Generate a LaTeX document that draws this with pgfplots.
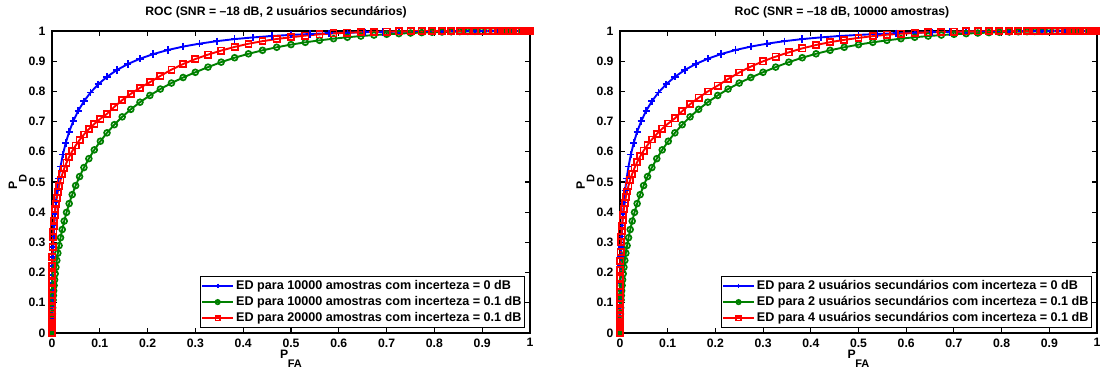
\documentclass[border=0pt]{standalone}
\usepackage{fontspec}
\setmainfont{Liberation Sans}
\usepackage{pgfplots}
\usepackage{pgfplotstable}
\pgfplotsset{compat=1.18}

\definecolor{mblue}{rgb}{0,0,1}
\definecolor{mgreen}{rgb}{0,0.5,0}
\definecolor{mred}{rgb}{1,0,0}

\pgfplotstableread{
x b
0 0
0.00003 0.0384
0.00005 0.0475
0.00007 0.0583
0.00011 0.0708
0.00016 0.0854
0.00023 0.1021
0.00034 0.1211
0.00048 0.1424
0.00069 0.1661
0.00097 0.1923
0.00135 0.2207
0.0019 0.2515
0.0026 0.2844
0.0035 0.3192
0.0047 0.3558
0.0062 0.3936
0.0082 0.4325
0.0107 0.4721
0.0139 0.5120
0.0179 0.5517
0.0228 0.5909
0.0287 0.6292
0.0359 0.6663
0.0446 0.7019
0.0548 0.7356
0.0668 0.7672
0.0808 0.7966
0.0968 0.8237
0.1151 0.8484
0.1357 0.8707
0.1587 0.8906
0.1841 0.9082
0.2119 0.9236
0.2420 0.9369
0.2743 0.9484
0.3085 0.9581
0.3446 0.9663
0.3821 0.9732
0.4207 0.9788
0.4602 0.9834
0.5 0.9871
0.5398 0.9901
0.5793 0.9925
0.6179 0.9943
0.6554 0.9957
0.6915 0.9968
0.7257 0.9977
0.7580 0.9983
0.7881 0.9988
0.8159 0.9991
0.8413 0.9994
0.8643 0.9996
0.8849 0.9997
0.9032 0.9998
0.9192 0.9998
0.9332 0.9999
0.9452 0.9999
0.9554 1
0.9641 1
0.9713 1
0.9772 1
0.9861 1
0.9918 1
0.9953 1
0.9974 1
1 1
}\blueTab

\pgfplotstableread{
x g rl rr
0 0 0 0
0 0.0003 0.0265 0.0237
0 0.0004 0.0331 0.0298
0.000001 0.0007 0.0410 0.0370
0.000002 0.0012 0.0503 0.0456
0.000003 0.0020 0.0612 0.0558
0.000007 0.0032 0.0739 0.0676
0.000013 0.0049 0.0885 0.0813
0.000026 0.0075 0.1052 0.0970
0.000048 0.0113 0.1241 0.1149
0.000088 0.0166 0.1452 0.1349
0.000159 0.0239 0.1686 0.1573
0.00028 0.0336 0.1943 0.1819
0.00048 0.0465 0.2222 0.2088
0.00082 0.0630 0.2523 0.2379
0.00135 0.0838 0.2843 0.2690
0.00219 0.1093 0.3183 0.3022
0.00277 0.1241 0.3360 0.3196
0.00347 0.1402 0.3539 0.3372
0.00433 0.1575 0.3722 0.3552
0.00539 0.1762 0.3907 0.3734
0.00667 0.1963 0.4095 0.3920
0.0082 0.2177 0.4286 0.4109
0.01004 0.2404 0.4478 0.4300
0.01222 0.2644 0.4672 0.4493
0.01484 0.2895 0.4865 0.4686
0.01786 0.3156 0.5060 0.4880
0.02144 0.3427 0.5254 0.5075
0.02559 0.3707 0.5448 0.5270
0.0304 0.3994 0.5640 0.5463
0.03593 0.4286 0.5832 0.5656
0.0423 0.4582 0.6021 0.5847
0.04947 0.4880 0.6208 0.6037
0.0577 0.5179 0.6392 0.6224
0.06681 0.5478 0.6573 0.6408
0.0771 0.5773 0.6750 0.6588
0.08851 0.6064 0.6924 0.6766
0.1012 0.6350 0.7092 0.6938
0.11507 0.6628 0.7257 0.7107
0.1304 0.6898 0.7489 0.7346
0.14686 0.7157 0.7711 0.7575
0.1649 0.7406 0.7920 0.7791
0.18406 0.7642 0.8118 0.7997
0.2048 0.7866 0.8305 0.8191
0.22663 0.8078 0.8513 0.8409
0.2499 0.8276 0.8720 0.8626
0.27425 0.8460 0.8906 0.8822
0.2998 0.8632 0.9071 0.8996
0.32636 0.8804 0.9218 0.9152
0.3539 0.8968 0.9351 0.9294
0.38209 0.9115 0.9473 0.9425
0.4110 0.9245 0.9577 0.9536
0.44038 0.9360 0.9664 0.9630
0.4701 0.9461 0.9735 0.9707
0.5 0.9549 0.9793 0.9771
0.5299 0.9625 0.9847 0.9830
0.5596 0.9690 0.9889 0.9876
0.5890 0.9746 0.9920 0.9910
0.6179 0.9793 0.9943 0.9936
0.6461 0.9832 0.9960 0.9955
0.6736 0.9865 0.9973 0.9969
0.7002 0.9892 0.9981 0.9978
0.7257 0.9914 0.9988 0.9986
0.7501 0.9933 0.9992 0.9990
0.7734 0.9947 0.9995 0.9994
0.7952 0.9959 0.9997 0.9996
0.8159 0.9968 0.9998 0.9997
0.8351 0.9976 0.9998 0.9998
0.8531 0.9981 0.9999 0.9998
0.8696 0.9986 0.9999 0.9999
0.8849 0.9989 1 0.9999
0.8988 0.9992 1 1
0.9115 0.9994 1 1
0.9229 0.9996 1 1
0.9332 0.9997 1 1
0.9423 0.9998 1 1
0.9505 0.9998 1 1
0.9577 0.9999 1 1
0.9641 0.9999 1 1
0.9744 1 1 1
0.9821 1 1 1
0.9878 1 1 1
0.9918 1 1 1
0.9946 1 1 1
0.9965 1 1 1
0.9978 1 1 1
1 1 1 1
}\otherTab

\newcommand{\fs}{\fontsize{12.2}{14}\selectfont\bfseries}
\newcommand{\fl}{\fontsize{12.6}{14}\selectfont\bfseries}

\pgfplotsset{
  rocaxis/.style={
    scale only axis, height=302pt,
    xmin=0,xmax=1,ymin=0,ymax=1,
    xtick={0,0.1,0.2,0.3,0.4,0.5,0.6,0.7,0.8,0.9,1},
    ytick={0,0.1,0.2,0.3,0.4,0.5,0.6,0.7,0.8,0.9,1},
    tick align=inside, major tick length=5pt,
    axis line style={line width=1.1pt},
    every tick/.style={black,line width=1.1pt},
    ticklabel style={font=\fs},
    /pgf/number format/assume math mode=true,
    xticklabel style={yshift=-2pt},
    yticklabel style={xshift=-3pt},
    clip=false,
    legend cell align=left,
    legend style={at={(axis description cs:1,0)}, anchor=south east,
      xshift=-5pt, yshift=5pt, font=\fl, draw=black, line width=0.9pt,
      inner sep=1pt, row sep=0pt,
      nodes={inner xsep=2pt, inner ysep=2.4pt, text height=9pt, text depth=2.5pt}},
    legend image code/.code={\draw[mark repeat=2,mark phase=2,##1,mark size=2.2pt]
      plot coordinates {(0pt,0pt) (15.5pt,0pt) (31pt,0pt)};},
    title style={font=\fs, anchor=base},
    xlabel style={at={(axis description cs:0.5,-0.0828)}, anchor=base, font=\fs},
    ylabel style={anchor=base, font=\fs},
    xlabel={P\kern-0.5pt\raisebox{-9.5pt}{\fontsize{11}{12}\selectfont FA}},
    ylabel={P\kern-0.5pt\raisebox{-9.5pt}{\fontsize{11}{12}\selectfont D}},
  },
  bl/.style={color=mblue, line width=1.9pt, mark=+, mark size=3.6pt, mark options={solid, line width=1.7pt}},
  gr/.style={color=mgreen, line width=1.9pt, mark=o, mark size=2.9pt, mark options={solid, line width=1.7pt}},
  rd/.style={color=mred, line width=1.9pt, mark=square, mark size=3.1pt, mark options={solid, line width=1.7pt}},
}

\begin{document}
\begin{tikzpicture}
\begin{axis}[rocaxis, width=478pt, at={(52pt,36pt)}, anchor=south west,
  title={ROC (SNR = –18 dB, 2 usuários secundários)},
  title style={at={(axis description cs:0.4686,1.0331)}},
  ylabel style={at={(axis description cs:-0.0732,0.5)}}]
\addplot[bl] table[x=x,y=b]{\blueTab};
\addplot[gr] table[x=x,y=g]{\otherTab};
\addplot[rd] table[x=x,y=rl]{\otherTab};
\legend{ED para 10000 amostras com incerteza = 0 dB,
        ED para 10000 amostras com incerteza = 0.1 dB,
        ED para 20000 amostras com incerteza = 0.1 dB}
\end{axis}
\begin{axis}[rocaxis, width=477pt, at={(620pt,36pt)}, anchor=south west,
  title={RoC (SNR = –18 dB, 10000 amostras)},
  title style={at={(axis description cs:0.4654,1.0331)}},
  ylabel style={at={(axis description cs:-0.0734,0.5)}}]
\addplot[bl] table[x=x,y=b]{\blueTab};
\addplot[gr] table[x=x,y=g]{\otherTab};
\addplot[rd] table[x=x,y=rr]{\otherTab};
\legend{ED para 2 usuários secundários com incerteza = 0 dB,
        ED para 2 usuários secundários com incerteza = 0.1 dB,
        ED para 4 usuários secundários com incerteza = 0.1 dB}
\end{axis}
\pgfresetboundingbox
\useasboundingbox (0,0) rectangle (1100pt,369pt);
\end{tikzpicture}
\end{document}
